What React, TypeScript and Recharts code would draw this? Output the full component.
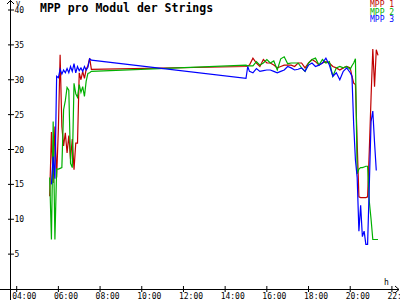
import { LineChart, Line, XAxis, YAxis } from "recharts";

// sample times (HH:MM); long gap between 07:35 and 15:00
const times = [
  "05:35", "05:40", "05:45", "05:50", "05:55", "06:00", "06:05", "06:10", "06:15", "06:20",
  "06:25", "06:30", "06:35", "06:40", "06:45", "06:50", "06:55", "07:00", "07:05", "07:10",
  "07:15", "07:20", "07:25", "07:30", "07:35",
  "15:00", "15:05", "15:10", "15:20", "15:30", "15:40", "15:50", "16:00", "16:10", "16:20",
  "16:30", "16:40", "16:50", "17:00", "17:10", "17:20", "17:30", "17:40", "17:50", "18:00",
  "18:10", "18:20", "18:30", "18:40", "18:50", "19:00", "19:10", "19:20", "19:30", "19:40",
  "19:50",
  "20:00", "20:05", "20:10", "20:15", "20:20", "20:25", "20:30", "20:35", "20:40", "20:45",
  "20:50", "20:55", "21:00", "21:05", "21:10", "21:15", "21:20",
];

const mpp1 = [
  13.3, 22.5, 15.2, 23.3, 16.0, 23.0, 33.6, 23.3, 20.5, 22.4,
  19.5, 22.0, 18.6, 21.5, 17.1, 20.9, 20.9, 31.0, 30.0, 31.2,
  30.2, 31.5, 32.0, 33.1, 31.5,
  31.9, 32.0, 32.1, 33.1, 32.4, 31.9, 32.9, 32.4, 32.4, 32.1,
  31.7, 31.9, 32.1, 32.1, 32.1, 31.9, 32.4, 32.4, 31.7, 32.4,
  32.9, 32.6, 32.1, 32.4, 32.6, 32.4, 31.9, 31.7, 31.4, 31.7,
  31.9,
  31.7, 30.5, 29.5, 29.3, 21.0, 13.2, 13.1, 13.1, 13.1, 13.1,
  13.2, 20.0, 27.5, 34.4, 29.0, 34.3, 33.5,
];

const mpp2 = [
  16.0, 7.1, 24.0, 7.1, 17.2, 17.2, 17.3, 17.4, 25.7, 27.0,
  28.9, 28.5, 18.0, 17.4, 29.5, 28.0, 27.5, 29.3, 28.2, 29.0,
  27.6, 29.8, 30.9, 31.0, 31.2,
  32.1, 32.0, 32.0, 32.0, 32.6, 32.1, 32.4, 32.9, 32.4, 32.7,
  31.4, 33.0, 33.3, 32.3, 32.4, 32.4, 32.4, 31.7, 31.2, 32.4,
  32.9, 33.1, 32.1, 32.9, 32.4, 32.6, 30.5, 31.7, 31.9, 31.7,
  31.9,
  31.5, 32.0, 32.4, 33.0, 16.5, 17.2, 17.4, 17.4, 17.5, 17.6,
  17.6, 12.5, 10.0, 7.1, 7.1, 7.1, 7.1,
];

const mpp3 = [
  null, 15.0, 19.0, 15.8, 30.5, 30.3, 31.5, 30.8, 31.4, 31.0,
  31.6, 31.0, 31.9, 31.2, 32.3, 31.0, 31.9, 31.3, 31.7, 31.2,
  31.9, 31.4, 31.8, 33.0, 32.8,
  30.2, 31.9, 31.2, 31.0, 31.6, 31.2, 31.3, 31.4, 31.4, 31.2,
  31.0, 31.2, 31.4, 31.9, 31.7, 31.4, 31.5, 31.7, 31.2, 32.1,
  32.4, 31.9, 32.1, 32.4, 33.1, 32.1, 30.5, 31.0, 30.0, 31.2,
  31.7,
  31.0, 30.5, 23.5, 18.5, 16.0, 8.3, 12.0, 7.5, 8.3, 6.4,
  6.4, 15.0, 24.0, 25.5, 21.0, 17.0, null,
];

const xTicks = [4, 6, 8, 10, 12, 14, 16, 18, 20, 22];
const yTicks = [5, 10, 15, 20, 25, 30, 35, 40];
const seriesNames = ["MPP 1", "MPP 2", "MPP 3"];
const seriesColors = ["#c00000", "#00b000", "#0000ff"];

const toHours = (s: string) => {
  const [h, m] = s.split(":").map(Number);
  return h + m / 60;
};

const data = times.map((s, i) => ({
  t: toHours(s),
  mpp1: mpp1[i],
  mpp2: mpp2[i],
  mpp3: mpp3[i],
}));

const mono = "'DejaVu Sans Mono', monospace";

const renderXTick = (props: any) => {
  const { x, y, payload } = props;
  const label = String(payload.value).padStart(2, "0") + ":00";
  return (
    <g key={"x" + payload.value}>
      <line x1={x} y1={y - 3} x2={x} y2={y + 3} stroke="#000" />
      <text x={x - 4.5} y={y + 9.5} textAnchor="start" fontSize={8} fontFamily={mono} fill="#000">
        {label}
      </text>
    </g>
  );
};

const renderYTick = (props: any) => {
  const { x, y, payload } = props;
  return (
    <g key={"y" + payload.value}>
      <line x1={x - 3} y1={y} x2={x + 3} y2={y} stroke="#000" />
      <text x={x + 3.5} y={y + 3} textAnchor="start" fontSize={8} fontFamily={mono} fill="#000">
        {payload.value}
      </text>
    </g>
  );
};

export default function App() {
  return (
    <div style={{ position: "absolute", left: 0, top: 0, width: 400, height: 300, background: "#fff" }}>
      <LineChart width={400} height={300} data={data} margin={{ top: 10, right: 0, bottom: 10, left: 10 }}>
        <XAxis
          dataKey="t"
          type="number"
          domain={[3.727, 22.388]}
          ticks={xTicks}
          interval={0}
          allowDataOverflow
          height={1}
          axisLine={false}
          tickLine={false}
          tickSize={0}
          tickMargin={0}
          tick={renderXTick}
        />
        <YAxis
          type="number"
          domain={[0, 40]}
          ticks={yTicks}
          interval={0}
          allowDataOverflow
          width={1}
          axisLine={false}
          tickLine={false}
          tickSize={0}
          tickMargin={0}
          tick={renderYTick}
        />
        <Line dataKey="mpp1" stroke={seriesColors[0]} strokeWidth={1.2} dot={false} isAnimationActive={false} />
        <Line dataKey="mpp2" stroke={seriesColors[1]} strokeWidth={1.2} dot={false} isAnimationActive={false} />
        <Line dataKey="mpp3" stroke={seriesColors[2]} strokeWidth={1.2} dot={false} isAnimationActive={false} />
      </LineChart>
      <svg
        width={400}
        height={300}
        style={{ position: "absolute", left: 0, top: 0, pointerEvents: "none" }}
      >
        {/* axes with arrows */}
        <line x1={10.5} y1={0} x2={10.5} y2={300} stroke="#000" />
        <polyline points="7,4 10.5,0.5 14,4" fill="none" stroke="#000" />
        <line x1={0} y1={289.5} x2={399} y2={289.5} stroke="#000" />
        <polyline points="395,286 399,289.5 395,293" fill="none" stroke="#000" />
        <text x={16} y={5.5} fontSize={7} fontFamily={mono}>V</text>
        <text x={384} y={284.5} fontSize={8} fontFamily={mono}>h</text>
        <text x={40} y={11.5} fontSize={11.5} fontWeight="bold" fontFamily={mono}>
          MPP pro Modul der Strings
        </text>
        {seriesNames.map((name, i) => (
          <text key={name} x={370} y={7 + i * 7.5} fontSize={8} fontFamily={mono} fill={seriesColors[i]}>
            {name}
          </text>
        ))}
      </svg>
    </div>
  );
}
